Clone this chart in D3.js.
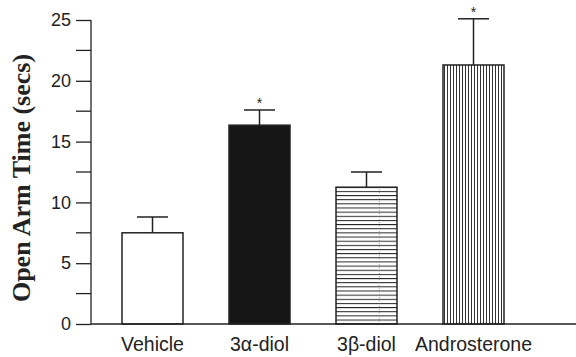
<!DOCTYPE html>
<html>
<head>
<meta charset="utf-8">
<script src="https://cdn.jsdelivr.net/npm/d3@7"></script>
<style>
body { margin: 0; background: #fff; }
svg { display: block; }
</style>
</head>
<body>
<svg id="chart" width="576" height="357"></svg>
<script>
var groups = ["Vehicle", "3α-diol", "3β-diol", "Androsterone"];
var means = [7.5, 16.35, 11.25, 21.3];
var errors = [1.3, 1.25, 1.25, 3.8];
var significant = [false, true, false, true];
var fills = ["white", "#161616", "hlines", "vlines"];
var yTicks = [0, 5, 10, 15, 20, 25];
var yMinorTicks = [2.5, 7.5, 12.5, 17.5, 22.5];

var svg = d3.select("#chart");

var x = d3.scaleBand()
	.domain(groups)
	.range([99, 527])
	.paddingInner(0.43)
	.paddingOuter(0.215);

var y = d3.scaleLinear()
	.domain([0, 25])
	.range([324, 20]);

var defs = svg.append("defs");

var hp = defs.append("pattern")
	.attr("id", "hlines")
	.attr("patternUnits", "userSpaceOnUse")
	.attr("width", 8)
	.attr("height", 4.15);
hp.append("rect").attr("width", 8).attr("height", 4.15).attr("fill", "white");
hp.append("line")
	.attr("x1", 0).attr("x2", 8)
	.attr("y1", 0.5).attr("y2", 0.5)
	.attr("stroke", "#222")
	.attr("stroke-width", 1);

var vp = defs.append("pattern")
	.attr("id", "vlines")
	.attr("patternUnits", "userSpaceOnUse")
	.attr("width", 3)
	.attr("height", 8);
vp.append("rect").attr("width", 3).attr("height", 8).attr("fill", "white");
vp.append("line")
	.attr("x1", 0.5).attr("x2", 0.5)
	.attr("y1", 0).attr("y2", 8)
	.attr("stroke", "#333")
	.attr("stroke-width", 1);

// y axis
var yAxis = svg.append("g")
	.attr("transform", "translate(91,0)")
	.call(d3.axisLeft(y).tickValues(yTicks).tickSize(15).tickPadding(5).tickFormat(d3.format("d")));
yAxis.select(".domain").remove();
yAxis.selectAll(".tick line").attr("stroke", "#222").attr("stroke-width", 1.3);
yAxis.selectAll(".tick text")
	.attr("font-family", "Liberation Sans, Arial, sans-serif")
	.attr("font-size", 18)
	.attr("fill", "#222");

svg.append("g")
	.selectAll("line")
	.data(yMinorTicks)
	.join("line")
	.attr("x1", 76).attr("x2", 91)
	.attr("y1", function(d) { return y(d); })
	.attr("y2", function(d) { return y(d); })
	.attr("stroke", "#222")
	.attr("stroke-width", 1.3);

svg.append("line")
	.attr("x1", 91).attr("x2", 91)
	.attr("y1", y(25)).attr("y2", y(0))
	.attr("stroke", "#222")
	.attr("stroke-width", 1.3);

// bars
svg.append("g")
	.selectAll("rect")
	.data(groups)
	.join("rect")
	.attr("x", function(d) { return x(d); })
	.attr("y", function(d, i) { return y(means[i]); })
	.attr("width", x.bandwidth())
	.attr("height", function(d, i) { return y(0) - y(means[i]); })
	.attr("fill", function(d, i) {
		return (fills[i] === "hlines" || fills[i] === "vlines") ? "url(#" + fills[i] + ")" : fills[i];
	})
	.attr("stroke", "#222")
	.attr("stroke-width", 1.5);

// faint dotted line inside the 3β-diol bar
svg.append("line")
	.attr("x1", x("3β-diol") + x.bandwidth() * 0.71)
	.attr("x2", x("3β-diol") + x.bandwidth() * 0.71)
	.attr("y1", y(means[2]) + 2)
	.attr("y2", y(0) - 2)
	.attr("stroke", "#777")
	.attr("stroke-width", 0.8)
	.attr("stroke-dasharray", "1,2");

// error bars
var eb = svg.append("g");
groups.forEach(function(g, i) {
	var cx = x(g) + x.bandwidth() / 2;
	eb.append("line")
		.attr("x1", cx).attr("x2", cx)
		.attr("y1", y(means[i])).attr("y2", y(means[i] + errors[i]))
		.attr("stroke", "#222").attr("stroke-width", 1.5);
	eb.append("line")
		.attr("x1", cx - 15.5).attr("x2", cx + 15.5)
		.attr("y1", y(means[i] + errors[i])).attr("y2", y(means[i] + errors[i]))
		.attr("stroke", "#222").attr("stroke-width", 1.5);
	if (significant[i]) {
		eb.append("text")
			.attr("x", cx)
			.attr("y", y(means[i] + errors[i]) - 2)
			.attr("text-anchor", "middle")
			.attr("font-family", "Liberation Sans, Arial, sans-serif")
			.attr("font-size", 14)
			.attr("fill", "#222")
			.text("*");
	}
});

// x baseline and labels
svg.append("line")
	.attr("x1", 91).attr("x2", 576)
	.attr("y1", y(0)).attr("y2", y(0))
	.attr("stroke", "#222")
	.attr("stroke-width", 1.3);

svg.append("g")
	.selectAll("text")
	.data(groups)
	.join("text")
	.attr("x", function(d) { return x(d) + x.bandwidth() / 2; })
	.attr("y", 351)
	.attr("text-anchor", "middle")
	.attr("font-family", "Liberation Sans, Arial, sans-serif")
	.attr("font-size", 19.5)
	.attr("fill", "#222")
	.text(function(d) { return d; });

// y title
svg.append("text")
	.attr("transform", "translate(30,178) rotate(-90)")
	.attr("text-anchor", "middle")
	.attr("font-family", "Liberation Serif, Times New Roman, serif")
	.attr("font-weight", "bold")
	.attr("font-size", 26)
	.attr("fill", "#222")
	.text("Open Arm Time (secs)");
</script>
</body>
</html>
